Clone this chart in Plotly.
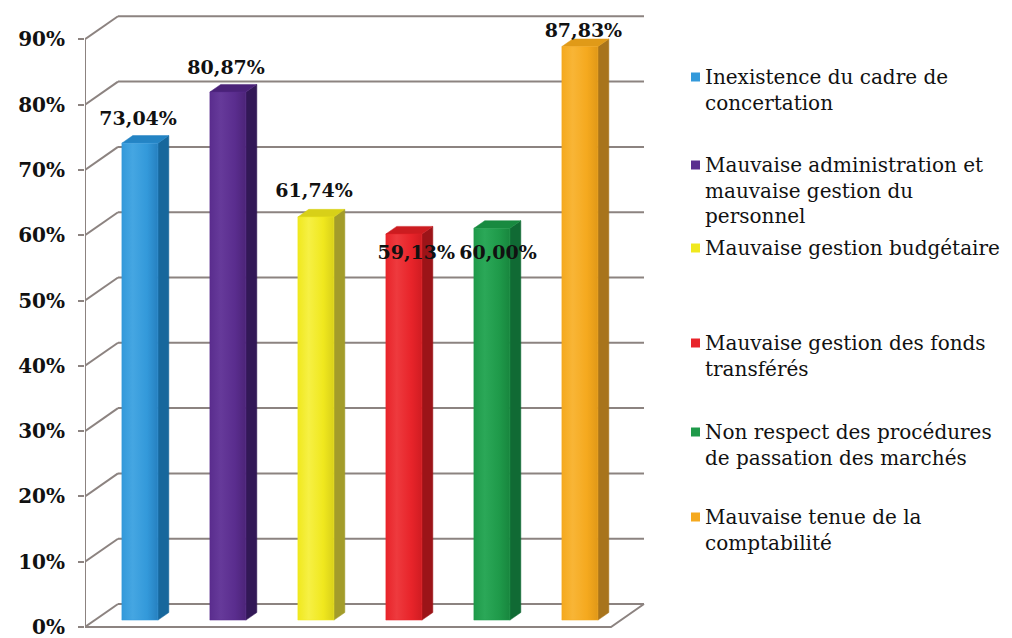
import plotly.graph_objects as go

# ---- data -------------------------------------------------------------
categories = [
    "Inexistence du cadre de concertation",
    "Mauvaise administration et mauvaise gestion du personnel",
    "Mauvaise gestion budgétaire",
    "Mauvaise gestion des fonds transférés",
    "Non respect des procédures de passation des marchés",
    "Mauvaise tenue de la comptabilité",
]
values = [73.04, 80.87, 61.74, 59.13, 60.00, 87.83]
tick_values = [0, 10, 20, 30, 40, 50, 60, 70, 80, 90]
tick_labels = ["0%", "10%", "20%", "30%", "40%", "50%", "60%", "70%", "80%", "90%"]
legend_lines = [
    ["Inexistence du cadre de", "concertation"],
    ["Mauvaise administration et", "mauvaise gestion du", "personnel"],
    ["Mauvaise gestion budgétaire"],
    ["Mauvaise gestion des fonds", "transférés"],
    ["Non respect des procédures", "de passation des marchés"],
    ["Mauvaise tenue de la", "comptabilité"],
]

# ---- styling ----------------------------------------------------------
front_colors = ["#3399da", "#5a2d8e", "#f0e81e", "#e8242a", "#1f9a4a", "#f5a91e"]
light_colors = ["#45a6e2", "#663a9a", "#f6f044", "#ee3a3e", "#2ba858", "#f8b536"]
edge_colors = ["#2680c0", "#4c2478", "#d8d01a", "#d01c22", "#18863e", "#e09818"]
side_colors = ["#17679c", "#321856", "#a39c2a", "#9c1418", "#106a34", "#a8741c"]
top_colors = ["#2484c4", "#4a2278", "#d8d018", "#cc1c20", "#188a40", "#e09a18"]
label_dx = [-0.02, -0.02, -0.02, 0.14, 0.07, 0.04]   # label nudges (category units)
label_dy = [4.6, 4.5, 4.9, -2.0, -2.85, 3.2]          # label nudges (percent units)

LINE = "#8c8380"
FONT_SERIF = "DejaVu Serif"

W, H = 1012, 638
ML = 85                     # left margin: front vertical axis
PX_PER_UNIT = 88.0          # category spacing in pixels
X0_PX = 130.0               # pixel of category 0 on the front plane
PX_PER_PCT = 6.53
Y0_PX = 627.0               # pixel of 0% on the front plane

x_range = [(ML - X0_PX) / PX_PER_UNIT, (W - X0_PX) / PX_PER_UNIT]
y_range = [(Y0_PX - H) / PX_PER_PCT, Y0_PX / PX_PER_PCT]

# oblique depth vector of the floor (front -> back)
DX = 33.0 / PX_PER_UNIT
DY = 23.0 / PX_PER_PCT
floor_left = x_range[0]
floor_right = (611.0 - X0_PX) / PX_PER_UNIT

# bar geometry
BAR_W = 0.41
T_FRONT, T_BACK = 0.30, 0.63


def depth(x, y, t):
    return x + t * DX, y + t * DY


def polygon(pts):
    xs = [q[0] for q in pts] + [pts[0][0]]
    ys = [q[1] for q in pts] + [pts[0][1]]
    return xs, ys


fig = go.Figure()

# ---- walls, floor and gridlines ---------------------------------------
gx, gy = [], []
for v in tick_values:
    # back wall gridline
    a = depth(floor_left, v, 1)
    b = depth(floor_right, v, 1)
    gx += [a[0], b[0], None]
    gy += [a[1], b[1], None]
    # side wall diagonal
    gx += [floor_left, a[0], None]
    gy += [v, a[1], None]
# front vertical axis
gx += [floor_left, floor_left, None]
gy += [0, tick_values[-1], None]
# floor front and right edges
br = depth(floor_right, 0, 1)
gx += [floor_left, floor_right, br[0], None]
gy += [0, 0, br[1], None]
fig.add_trace(go.Scatter(x=gx, y=gy, mode="lines", line=dict(color=LINE, width=2),
                         hoverinfo="skip", showlegend=False))

# ---- 3D bars -----------------------------------------------------------
for i, (name, v) in enumerate(zip(categories, values)):
    xl, xr = i - BAR_W / 2, i + BAR_W / 2
    # right side face
    xs, ys = polygon([depth(xr, 0, T_FRONT), depth(xr, 0, T_BACK),
                      depth(xr, v, T_BACK), depth(xr, v, T_FRONT)])
    fig.add_trace(go.Scatter(x=xs, y=ys, fill="toself", fillcolor=side_colors[i], mode="lines",
                             line=dict(color=side_colors[i], width=0.5),
                             hoverinfo="skip", showlegend=False))
    # top face
    xs, ys = polygon([depth(xl, v, T_FRONT), depth(xr, v, T_FRONT),
                      depth(xr, v, T_BACK), depth(xl, v, T_BACK)])
    fig.add_trace(go.Scatter(x=xs, y=ys, fill="toself", fillcolor=top_colors[i], mode="lines",
                             line=dict(color=top_colors[i], width=0.5),
                             hoverinfo="skip", showlegend=False))
    # front face
    xs, ys = polygon([depth(xl, 0, T_FRONT), depth(xr, 0, T_FRONT),
                      depth(xr, v, T_FRONT), depth(xl, v, T_FRONT)])
    label = f"{v:.2f}%".replace(".", ",")
    fig.add_trace(go.Scatter(x=xs, y=ys, fill="toself", mode="lines",
                             fillgradient=dict(type="horizontal",
                                               colorscale=[[0, front_colors[i]], [0.3, light_colors[i]],
                                                           [0.7, front_colors[i]], [1, edge_colors[i]]]),
                             line=dict(color=front_colors[i], width=0.5),
                             name=name, hovertemplate=name + ": " + label + "<extra></extra>",
                             showlegend=False))

# ---- value labels ------------------------------------------------------
lx, ly, lt = [], [], []
for i, v in enumerate(values):
    cx, cy = depth(i, v, T_FRONT)
    lx.append(cx + label_dx[i])
    ly.append(cy + label_dy[i] - T_FRONT * DY)
    lt.append(f"{v:.2f}%".replace(".", ","))
fig.add_trace(go.Scatter(x=lx, y=ly, mode="text", text=lt, textposition="middle center",
                         textfont=dict(family=FONT_SERIF, size=19, color="#111111", weight="bold"),
                         cliponaxis=False, hoverinfo="skip", showlegend=False))

# ---- legend (squares + text lines) -------------------------------------
legend_first_line_px = [77, 165, 248, 343, 432, 517]
LINE_STEP = 25.5
shapes = []
annotations = []


def px_x(px):
    return (px - X0_PX) / PX_PER_UNIT


def px_y(py):
    return (Y0_PX - py) / PX_PER_PCT


for i, lines in enumerate(legend_lines):
    y_first = legend_first_line_px[i]
    shapes.append(dict(type="rect", xref="x", yref="y",
                       x0=px_x(691), x1=px_x(700), y0=px_y(y_first - 4.5), y1=px_y(y_first + 4.5),
                       fillcolor=front_colors[i], line=dict(width=0)))
    for k, txt in enumerate(lines):
        annotations.append(dict(x=px_x(703), y=px_y(y_first + k * LINE_STEP), xref="x", yref="y",
                                text=txt, showarrow=False, xanchor="left", yanchor="middle",
                                font=dict(family=FONT_SERIF, size=20, color="#111111")))

fig.update_layout(
    width=W, height=H,
    margin=dict(l=ML, r=0, t=0, b=0),
    paper_bgcolor="white", plot_bgcolor="white",
    shapes=shapes, annotations=annotations,
    showlegend=False,
    xaxis=dict(range=x_range, visible=False, fixedrange=True),
    yaxis=dict(range=y_range, tickmode="array", tickvals=tick_values, ticktext=tick_labels,
               ticks="outside", ticklen=6, tickwidth=2, tickcolor=LINE,
               ticklabelstandoff=9, ticklabeloverflow="allow",
               tickfont=dict(family=FONT_SERIF, size=20, color="#111111", weight="bold"),
               showgrid=False, zeroline=False, showline=False, automargin=False, fixedrange=True),
)

fig.write_html("out.html")
